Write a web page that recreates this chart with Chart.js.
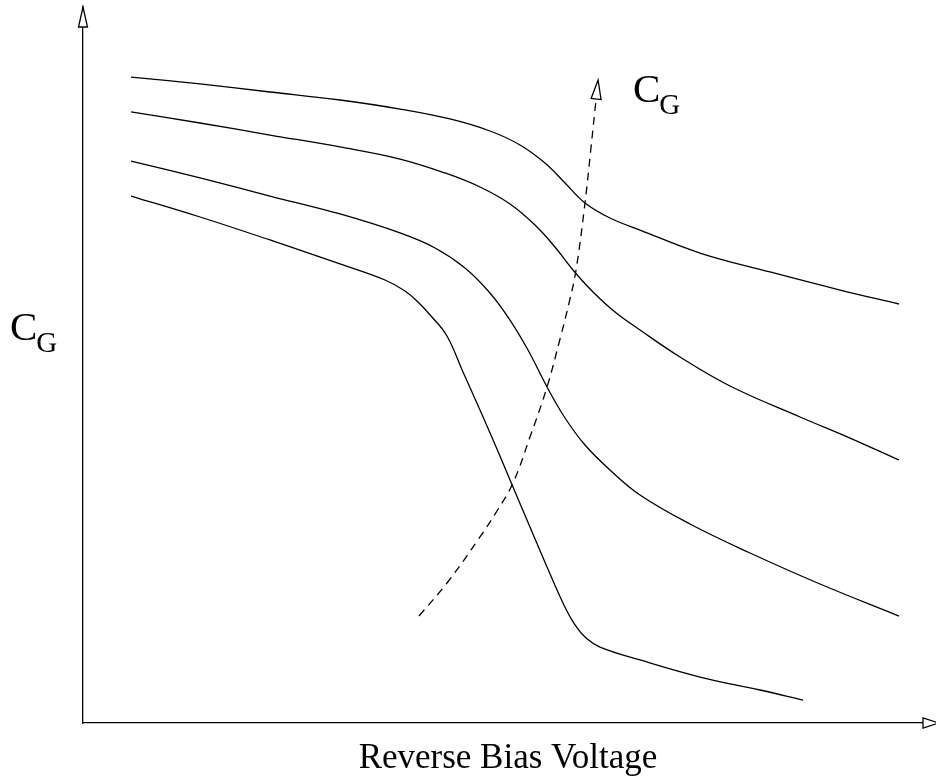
<!DOCTYPE html>
<html>
<head>
<meta charset="utf-8">
<title>Gate capacitance vs reverse bias</title>
<script src="https://cdn.jsdelivr.net/npm/chart.js@4.4.1/dist/chart.umd.min.js"></script>
<style>
  html, body { margin: 0; padding: 0; background: #fff; }
  #wrap { width: 936px; height: 780px; position: relative; }
</style>
</head>
<body>
<div id="wrap"><canvas id="cgChart"></canvas></div>
<script>
// reverse bias (arbitrary units 0..10) and gate capacitance (0..10) for each curve
const bias1 = [0.563, 1.372, 2.192, 3.013, 3.716, 4.302, 4.771, 5.123, 5.416, 5.651, 5.885, 6.178, 6.530, 7.233, 8.054, 8.875, 9.566];
const cap1  = [9.022, 8.925, 8.813, 8.701, 8.575, 8.436, 8.268, 8.073, 7.821, 7.542, 7.263, 7.053, 6.885, 6.564, 6.299, 6.047, 5.852];

const bias2 = [0.563, 1.372, 2.192, 3.013, 3.716, 4.244, 4.654, 5.006, 5.299, 5.533, 5.744, 5.979, 6.237, 6.530, 6.999, 7.585, 8.406, 8.992, 9.566];
const cap2  = [8.534, 8.380, 8.212, 8.045, 7.877, 7.682, 7.486, 7.249, 6.955, 6.648, 6.327, 6.020, 5.740, 5.489, 5.112, 4.707, 4.274, 3.980, 3.673];

const bias3 = [0.563, 1.372, 2.192, 3.013, 3.716, 4.127, 4.478, 4.771, 5.006, 5.217, 5.440, 5.651, 5.885, 6.178, 6.530, 7.116, 7.820, 8.640, 9.566];
const cap3  = [7.849, 7.612, 7.360, 7.109, 6.844, 6.634, 6.355, 6.006, 5.628, 5.209, 4.693, 4.260, 3.883, 3.534, 3.184, 2.779, 2.374, 1.941, 1.494];

const bias4 = [0.563, 1.372, 2.192, 3.013, 3.540, 3.775, 3.927, 4.091, 4.267, 4.455, 4.654, 4.853, 5.041, 5.240, 5.440, 5.627, 5.768, 5.897, 6.061, 6.530, 7.233, 7.937, 8.441];
const cap4  = [7.360, 7.067, 6.746, 6.411, 6.187, 6.034, 5.880, 5.670, 5.405, 4.902, 4.372, 3.827, 3.296, 2.737, 2.179, 1.676, 1.369, 1.187, 1.061, 0.880, 0.642, 0.461, 0.321];

// dashed trend line: direction of increasing C_G
const trendBias = [3.939, 4.267, 4.654, 4.853, 5.041, 5.240, 5.440, 5.592, 5.698, 5.780, 5.885, 5.955, 6.014];
const trendCap  = [1.494, 1.955, 2.598, 2.961, 3.352, 3.994, 4.693, 5.363, 5.866, 6.327, 7.263, 8.031, 8.701];

const xTitle = "Reverse Bias Voltage";
const capSymbol = "C";
const capSub = "G";

const toPoints = (xs, ys) => xs.map((x, i) => ({ x: x, y: ys[i] }));

function curve(xs, ys, dashed) {
    return {
        data: toPoints(xs, ys),
        borderColor: "#000",
        borderWidth: 1.3,
        borderDash: dashed ? [8, 6] : [],
        pointRadius: 0,
        fill: false,
        tension: 0.4
    };
}

// hollow arrow head, tip at (tx, ty), pointing along (dx, dy)
function arrowHead(ctx, tx, ty, dx, dy, len, half) {
    const n = Math.hypot(dx, dy);
    const ux = dx / n, uy = dy / n;
    const bx = tx - ux * len, by = ty - uy * len;
    ctx.beginPath();
    ctx.moveTo(tx, ty);
    ctx.lineTo(bx - uy * half, by + ux * half);
    ctx.lineTo(bx + uy * half, by - ux * half);
    ctx.closePath();
    ctx.fillStyle = "#fff";
    ctx.fill();
    ctx.lineWidth = 1.3;
    ctx.strokeStyle = "#000";
    ctx.stroke();
}

function drawCG(ctx, x, y, big, small) {
    ctx.fillStyle = "#000";
    ctx.textBaseline = "alphabetic";
    ctx.textAlign = "left";
    ctx.font = big + 'px "Liberation Serif", "Times New Roman", serif';
    ctx.fillText(capSymbol, x, y);
    const w = ctx.measureText(capSymbol).width;
    ctx.font = small + 'px "Liberation Serif", "Times New Roman", serif';
    ctx.fillText(capSub, x + w - 1, y + 12);
}

const decorations = {
    id: "decorations",
    afterDraw(chart) {
        const ctx = chart.ctx;
        const a = chart.chartArea;
        ctx.save();
        // axis arrows
        arrowHead(ctx, a.left, a.top, 0, -1, 20, 4.5);
        arrowHead(ctx, a.right + 3, a.bottom, 1, 0, 16, 5);

        // arrow at the end of the dashed trend line
        const pts = chart.getDatasetMeta(4).data;
        const p1 = pts[pts.length - 2], p2 = pts[pts.length - 1];
        const dx = p2.x - p1.x, dy = p2.y - p1.y;
        const n = Math.hypot(dx, dy);
        arrowHead(ctx, p2.x + dx / n * 20, p2.y + dy / n * 20, dx, dy, 19, 5);

        // labels
        drawCG(ctx, 10, 340, 41, 29);
        drawCG(ctx, 633, 102, 41, 29);

        ctx.fillStyle = "#000";
        ctx.textAlign = "center";
        ctx.font = '35px "Liberation Serif", "Times New Roman", serif';
        ctx.fillText(xTitle, 508, 768);
        ctx.restore();
    }
};

// axes take no room of their own; the plot area is set by the padding alone
const noSize = (scale) => {
    if (scale.isHorizontal()) scale.height = 0; else scale.width = 0;
};

const ctx = document.getElementById("cgChart").getContext("2d");
new Chart(ctx, {
    type: "line",
    data: {
        datasets: [
            curve(bias1, cap1, false),
            curve(bias2, cap2, false),
            curve(bias3, cap3, false),
            curve(bias4, cap4, false),
            curve(trendBias, trendCap, true)
        ]
    },
    options: {
        responsive: true,
        maintainAspectRatio: false,
        animation: false,
        layout: { padding: { left: 83, top: 7, right: 0, bottom: 57 } },
        plugins: {
            legend: { display: false },
            tooltip: { enabled: false }
        },
        scales: {
            x: {
                type: "linear",
                min: 0,
                max: 10,
                grid: { display: false },
                ticks: { display: false },
                border: { display: true, color: "#000", width: 1.3 },
                afterFit: noSize
            },
            y: {
                type: "linear",
                min: 0,
                max: 10,
                grid: { display: false },
                ticks: { display: false },
                border: { display: true, color: "#000", width: 1.3 },
                afterFit: noSize
            }
        }
    },
    plugins: [decorations]
});
</script>
</body>
</html>
